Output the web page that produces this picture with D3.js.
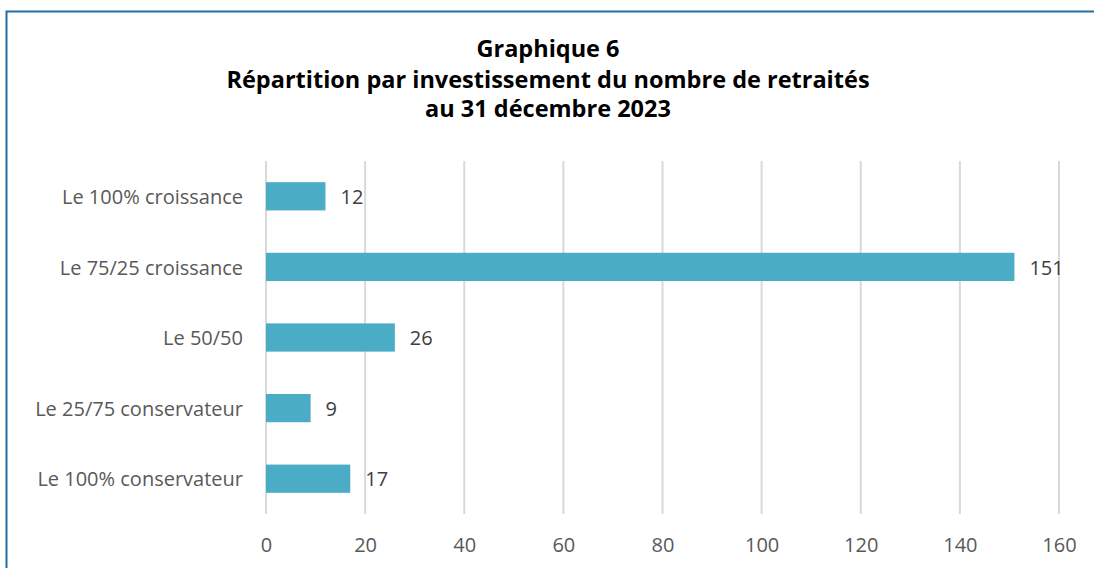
<!DOCTYPE html>
<html><head><meta charset="utf-8">
<script src="https://cdn.jsdelivr.net/npm/d3@7"></script>
<style>
html,body{margin:0;padding:0;background:#fff;}
svg{display:block;}
</style></head>
<body><svg id="c" width="1094" height="568"></svg>
<script>
const categories = ["Le 100% croissance","Le 75/25 croissance","Le 50/50","Le 25/75 conservateur","Le 100% conservateur"];
const values = [12,151,26,9,17];
const xTicks = [0,20,40,60,80,100,120,140,160];
const titleLines = ["Graphique 6","Répartition par investissement du nombre de retraités","au 31 décembre 2023"];

const svg = d3.select("#c");
const font = "'Open Sans', sans-serif";

// frame
svg.append("path").attr("d","M6.5,568 L6.5,11.5 L1094,11.5")
  .attr("fill","none").attr("stroke","#1F6FA0").attr("stroke-width",2);

const x = d3.scaleLinear().domain([0,160]).range([266,1059]);
const y = d3.scaleBand().domain(categories).range([161,514]).paddingInner(0.6).paddingOuter(0.3);

// gridlines
svg.append("g").selectAll("line").data(xTicks).join("line")
  .attr("x1",d=>x(d)).attr("x2",d=>x(d)).attr("y1",161).attr("y2",514)
  .attr("stroke","#D9D9D9").attr("stroke-width",2);

// bars
svg.append("g").selectAll("rect").data(values).join("rect")
  .attr("x",x(0)).attr("y",(d,i)=>y(categories[i]))
  .attr("width",d=>x(d)-x(0)).attr("height",y.bandwidth())
  .attr("fill","#4BACC6");

// value labels
svg.append("g").selectAll("text").data(values).join("text")
  .attr("x",d=>x(d)+15).attr("y",(d,i)=>y(categories[i])+y.bandwidth()/2)
  .attr("dy","0.38em").attr("font-family",font).attr("font-size",20)
  .attr("fill","#404040").text(d=>d);

// y axis labels
const yAxis = d3.axisLeft(y).tickSize(0).tickPadding(0);
const gy = svg.append("g").attr("transform","translate(243,0)").call(yAxis);
gy.select(".domain").remove();
gy.selectAll("text").attr("font-family",font).attr("font-size",20).attr("fill","#595959").attr("dy","0.38em");

// x axis labels
const xAxis = d3.axisBottom(x).tickValues(xTicks).tickSize(0).tickPadding(0);
const gx = svg.append("g").attr("transform","translate(0,552)").call(xAxis);
gx.select(".domain").remove();
gx.selectAll("text").attr("font-family",font).attr("font-size",20).attr("fill","#595959").attr("dy","0");

// title
svg.append("g").selectAll("text").data(titleLines).join("text")
  .attr("x",548).attr("y",(d,i)=>[57,88,117][i]).attr("text-anchor","middle")
  .attr("font-family",font).attr("font-weight","bold").attr("font-size",23.5)
  .attr("fill","#000").text(d=>d);
</script></body></html>
